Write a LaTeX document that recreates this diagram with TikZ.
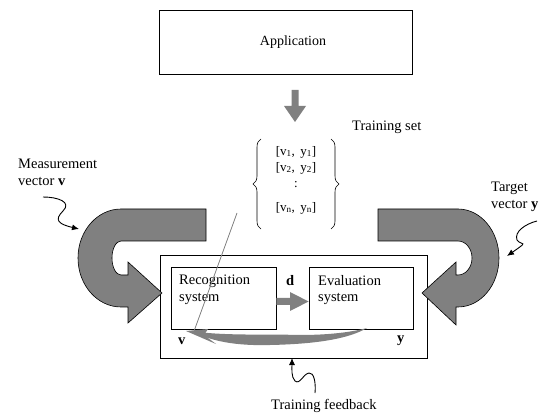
\documentclass[tikz,border=0pt]{standalone}
\usepackage{fontspec}
\setmainfont{Liberation Serif}
\usetikzlibrary{arrows.meta,decorations.pathreplacing}
\definecolor{arrowgray}{RGB}{128,128,128}
\begin{document}
\begin{tikzpicture}[x=1pt,y=-1pt,
  box/.style={draw=black, line width=0.8pt, inner sep=0pt},
  lbl/.style={font=\fontsize{14.5}{16}\selectfont, inner sep=0pt, anchor=west},
  boldlbl/.style={lbl, font=\fontsize{14.5}{16}\selectfont\bfseries},
  pair/.style={font=\fontsize{13}{15}\selectfont, inner sep=0pt},
  bigarrow/.style={fill=arrowgray, draw=black, line width=0.6pt},
  squiggle/.style={draw=black, line width=0.9pt, -{Latex[length=7pt,width=6pt]}},
  curly/.style={draw=black, line width=0.6pt, decorate,
    decoration={brace, amplitude=8pt, aspect=0.5}}
]
\useasboundingbox (0,0) rectangle (539,417);

% boxes
\node[box, minimum width=253pt, minimum height=64pt] (app) at (285.5,42) {};
\node[font=\fontsize{14}{16}\selectfont, inner sep=0pt] (apptext) at (293,42) {Application};
\node[box, minimum width=267pt, minimum height=103pt] (outer) at (293.5,306.5) {};
\node[box, minimum width=105pt, minimum height=62pt] (rec) at (223.5,298) {};
\node[box, minimum width=104pt, minimum height=62pt] (eval) at (361,298) {};

\node[lbl] (rec1) at (179,281) {Recognition};
\node[lbl] (rec2) at (179,299) {system};
\node[lbl] (eval1) at (318,281) {Evaluation};
\node[lbl] (eval2) at (318,299) {system};
\node[boldlbl] (dlab) at (286,281) {d};
\node[boldlbl] (vlab) at (178,341) {v};
\node[boldlbl] (ylab) at (397,341) {y};

% arrow from the application down to the training set
\fill[arrowgray] (291.5,90) -- (298.5,90) -- (298.5,106) -- (306,106) -- (295,122)
  -- (284,106) -- (291.5,106) -- cycle;
\node[lbl] (tset) at (352,127) {Training set};

% training set
\coordinate (bl) at (261,229);
\coordinate (tl) at (261,139);
\coordinate (tr) at (331,139);
\coordinate (br) at (331,229);
\draw[curly] (bl) -- (tl);
\draw[curly] (tr) -- (br);
\node[pair] (p1) at (296,152) {[v\textsubscript{1},\, y\textsubscript{1}]};
\node[pair] (p2) at (296,168) {[v\textsubscript{2},\, y\textsubscript{2}]};
\node[pair] (pd) at (296,185) {:};
\node[pair] (pn) at (296,208) {[v\textsubscript{n},\, y\textsubscript{n}]};

% measurement vector input arrow
\draw[bigarrow] (206,209) -- (121,209)
  arc[start angle=270, end angle=90, x radius=43, y radius=49]
  -- (128,307) -- (128,323) -- (162,293) -- (128,262) -- (128,275) -- (121,275)
  arc[start angle=90, end angle=270, x radius=9, y radius=17]
  -- (206,241) -- cycle;

% target vector input arrow
\draw[bigarrow] (378,209) -- (458,209)
  arc[start angle=270, end angle=450, x radius=41, y radius=49]
  -- (456,307) -- (456,325) -- (422,293) -- (456,262) -- (456,275) -- (458,275)
  arc[start angle=90, end angle=-90, x radius=14, y radius=17]
  -- (378,241) -- cycle;

% d arrow between the two systems
\fill[arrowgray] (rec.east |- 0,298) -- (290,298) -- (290,292) -- (eval.west |- 0,301.5)
  -- (290,311) -- (290,305) -- (rec.east |- 0,305) -- cycle;

% training feedback loop
\fill[arrowgray] (192,331) .. controls (220,336) and (270,334) .. (300,335)
  .. controls (330,335) and (352,332) .. (367,328)
  .. controls (350,338) and (320,344) .. (270,345)
  .. controls (235,346) and (210,341) .. (192,331) -- cycle;
\fill[arrowgray] (186,331) -- (208,329) -- (204,335) -- (216,344) -- cycle;
\coordinate (lineTop) at (237,213);
\coordinate (lineEnd) at (193,334);
\draw[arrowgray, line width=0.8pt] (lineTop) -- (lineEnd);

% labels with squiggly pointers
\node[lbl] (meas1) at (18,164) {Measurement};
\node[lbl] (meas2) at (18,181) {vector \textbf{v}};
\coordinate (measTip) at (79,229);
\draw[squiggle] (43,197) .. controls (58,197) and (72,202) .. (63,211)
  .. controls (54,220) and (58,224) .. (measTip);

\node[lbl] (targ1) at (491,188) {Target};
\node[lbl] (targ2) at (491,206) {vector \textbf{y}};
\coordinate (targTip) at (507,256);
\draw[squiggle] (537,221) .. controls (525,224) and (514,232) .. (517,240)
  .. controls (521,246) and (530,240) .. (targTip);

\node[lbl] (feed) at (271,406) {Training feedback};
\coordinate (feedTip) at (292,358);
\draw[squiggle] (315,393) .. controls (316,383) and (314,372) .. (309,373)
  .. controls (303,374) and (300,385) .. (295,381)
  .. controls (291,377) and (292,368) .. (feedTip);
\end{tikzpicture}
\end{document}
